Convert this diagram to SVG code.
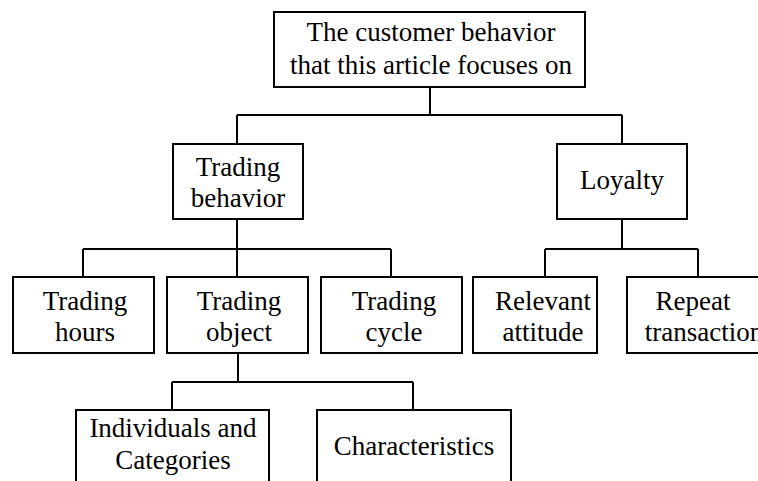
<svg xmlns="http://www.w3.org/2000/svg" width="758" height="481" viewBox="0 0 758 481">
<style>
.box{fill:#fff;stroke:#000;stroke-width:2}
.ln{fill:none;stroke:#000;stroke-width:2}
text{font-family:"Liberation Serif","Times New Roman",serif;font-size:27px;fill:#000;text-anchor:middle}
</style>
<rect width="758" height="481" fill="#fff"/>
<g id="connectors">
<path class="ln" d="M430,87V115M237,115H622M237,115V144M622,115V144"/>
<path class="ln" d="M237,219V249M83,249H391M83,249V277M237,249V277M391,249V277"/>
<path class="ln" d="M622,219V249M545,249H698M545,249V277M698,249V277"/>
<path class="ln" d="M238,353V382M172,382H413M172,382V410M413,382V410"/>
</g>
<g id="root">
<rect class="box" x="274" y="12" width="311" height="75"/>
<text x="431" y="41">The customer behavior</text>
<text x="431" y="74">that this article focuses on</text>
</g>
<g id="trading-behavior">
<rect class="box" x="173" y="144" width="130" height="75"/>
<text x="238" y="176">Trading</text>
<text x="238" y="207">behavior</text>
</g>
<g id="loyalty">
<rect class="box" x="557" y="144" width="130" height="75"/>
<text x="622" y="189">Loyalty</text>
</g>
<g id="trading-hours">
<rect class="box" x="13" y="277" width="141" height="76"/>
<text x="85" y="310">Trading</text>
<text x="85" y="341">hours</text>
</g>
<g id="trading-object">
<rect class="box" x="167" y="277" width="141" height="76"/>
<text x="239" y="310">Trading</text>
<text x="239" y="341">object</text>
</g>
<g id="trading-cycle">
<rect class="box" x="321" y="277" width="141" height="76"/>
<text x="394" y="310">Trading</text>
<text x="394" y="341">cycle</text>
</g>
<g id="relevant-attitude">
<rect class="box" x="473" y="277" width="124" height="76"/>
<text x="543" y="310">Relevant</text>
<text x="543" y="341">attitude</text>
</g>
<g id="repeat-transaction">
<rect class="box" x="627" y="277" width="150" height="76"/>
<text x="693" y="310">Repeat</text>
<text x="704" y="341">transaction</text>
</g>
<g id="individuals-categories">
<rect class="box" x="76" y="410" width="193" height="90"/>
<text x="173" y="437">Individuals and</text>
<text x="173" y="469">Categories</text>
</g>
<g id="characteristics">
<rect class="box" x="317" y="410" width="194" height="90"/>
<text x="414" y="455">Characteristics</text>
</g>
</svg>
